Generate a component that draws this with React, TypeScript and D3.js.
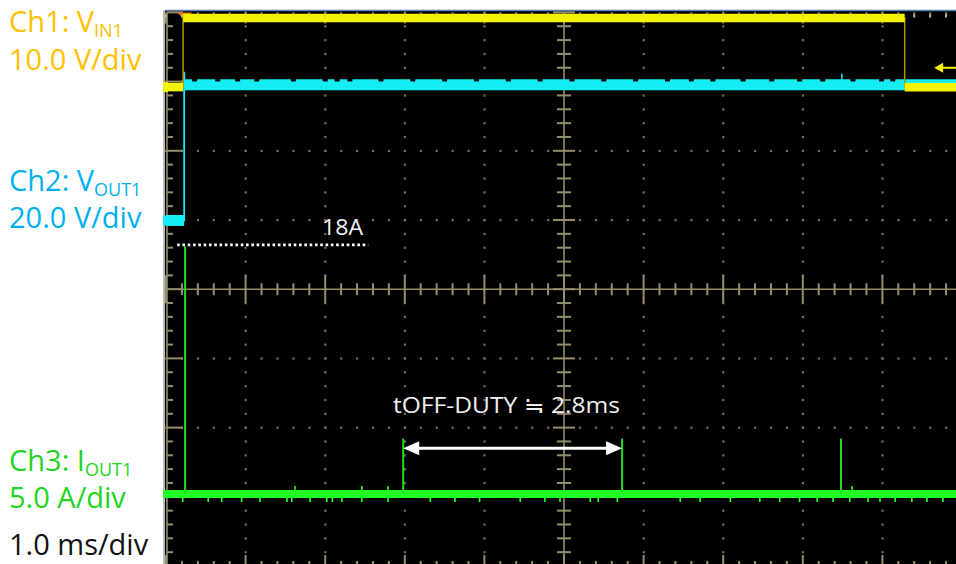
import React from 'react';
import * as d3 from 'd3';

const W = 956;
const H = 564;

// graticule: 10 time divisions (1.0 ms/div), 8 vertical divisions
const timeMajor = [0, 1, 2, 3, 4, 5, 6, 7, 8, 9, 10];
const divMajor = [-4, -3, -2, -1, 0, 1, 2, 3, 4];
const minorPerDiv = 5;

// channel settings: offset (div) and units per div
const ch1Offset = 2.92;
const ch1PerDiv = 10.0;
const ch2Offset = 0.993;
const ch2PerDiv = 20.0;
const ch3Offset = -2.96;
const ch3PerDiv = 5.0;

// Ch1: VIN1 (V) step trace
const ch1Time = [0, 0.215, 0.215, 9.28, 9.28, 10.2];
const ch1Volt = [0, 0, 10.0, 10.0, 0, 0];

// Ch2: VOUT1 (V) step trace
const ch2Time = [0, 0.228, 0.228, 0.236, 10.2];
const ch2Volt = [0, 0, 43.0, 39.2, 39.2];
const ch2NotchTime = [0.36, 0.65, 0.9, 1.14, 1.6, 2.0, 2.15, 2.31, 2.7, 3.1, 3.5, 3.9, 4.3, 4.7, 5.1, 5.5, 5.9, 6.3, 6.6, 6.87, 7.25, 7.61, 7.96, 8.25, 8.63, 8.99, 9.13];
const ch2BlipTime = [8.49];

// Ch3: IOUT1 (A) baseline with current pulses
const ch3SpikeTime = [0.24, 2.98, 5.73, 8.48];
const ch3SpikeAmp = [17.9, 4.0, 4.0, 4.0];
const ch3GlitchDown = [0.21, 0.53, 0.7, 0.95, 1.18, 1.52, 1.58, 1.81, 2.02, 2.09, 2.21, 2.46, 2.79, 3.32, 3.63, 3.94, 4.45, 4.76, 4.95, 5.33, 5.43, 5.67, 6.46, 6.71, 7.09, 7.46, 7.71, 7.96, 8.18, 8.38, 8.59, 8.82, 8.97, 9.16, 9.37, 9.56, 9.76];
const ch3GlitchUp = [1.62, 2.46, 2.79, 8.62];

// annotations
const level18A = 18.0;
const level18AStart = 0.14;
const level18AEnd = 2.54;
const label18ATime = 1.96;
const tOffLevel = 3.3;
const trigLevel = 2.8;

export default function App() {
  const plotLeft = 166;
  const plotTop = 12.4;
  const divX = 79.6;
  const divY = 69.2;
  const x = d3.scaleLinear().domain([0, 10]).range([plotLeft, plotLeft + 10 * divX]);
  const yd = d3.scaleLinear().domain([-4, 4]).range([plotTop + 8 * divY, plotTop]);
  const y1 = (v: number) => yd(ch1Offset + v / ch1PerDiv);
  const y2 = (v: number) => yd(ch2Offset + v / ch2PerDiv);
  const y3 = (v: number) => yd(ch3Offset + v / ch3PerDiv);

  const minorT = d3.range(0, 10 * minorPerDiv + 1).map((i) => i / minorPerDiv);
  const minorD = d3.range(-4 * minorPerDiv, 4 * minorPerDiv + 1).map((i) => i / minorPerDiv);
  const isMajor = (v: number) => Math.abs(v - Math.round(v)) < 1e-6;

  const grid = '#958d6c';
  const dotC = '#736d53';

  const x0 = x(5);
  const yc = yd(0);
  const yBottom = yd(-4);

  // dotted major grid lines
  const dots: JSX.Element[] = [];
  timeMajor.filter((t) => t !== 0 && t !== 5 && t !== 10).forEach((t) => {
    minorD.forEach((d, j) => {
      dots.push(<rect key={`dv${t}-${j}`} x={x(t) - 1} y={yd(d) - 1} width={2.2} height={2.2} fill={dotC} />);
    });
  });
  divMajor.filter((d) => d !== 0 && Math.abs(d) !== 4).forEach((d) => {
    minorT.forEach((t, j) => {
      dots.push(<rect key={`dh${d}-${j}`} x={x(t) - 1} y={yd(d) - 1} width={2.2} height={2.2} fill={dotC} />);
    });
  });

  // step trace helper
  const stepParts = (ts: number[], vs: number[], yf: (v: number) => number) => {
    const flats: [number, number, number][] = [];
    for (let i = 0; i < ts.length - 1; i++) {
      if (vs[i] === vs[i + 1] && ts[i] !== ts[i + 1]) flats.push([x(ts[i]), x(ts[i + 1]), yf(vs[i])]);
    }
    const path = d3.line<number>().x((_, i) => x(ts[i])).y((v) => yf(v))(vs) || '';
    return { flats, path };
  };
  const c1 = stepParts(ch1Time, ch1Volt, y1);
  const c2 = stepParts(ch2Time, ch2Volt, y2);
  const c2High = y2(ch2Volt[ch2Volt.length - 1]);

  const yellow = '#f4f400';
  const cyan = '#16ecf4';
  const green = '#22ff22';

  const y3base = y3(0);
  const arrowY = y3(tOffLevel);
  const ax1 = x(ch3SpikeTime[1]);
  const ax2 = x(ch3SpikeTime[2]);
  const ah = 16;
  const aw = 7;

  const trigY = y1(trigLevel);
  const font = '"Open Sans", "Noto Sans", sans-serif';

  return (
    <div style={{ position: 'absolute', left: 0, top: 0, width: W, height: H, background: '#fff' }}>
      <svg width={W} height={H} viewBox={`0 0 ${W} ${H}`} style={{ display: 'block' }}>
        <rect x={0} y={0} width={W} height={H} fill="#ffffff" />
        {/* scope screen */}
        <rect x={plotLeft - 1} y={plotTop - 2} width={W - plotLeft + 1} height={H - plotTop + 2} fill="#000000" />
        <line x1={plotLeft - 1} x2={W} y1={plotTop - 2} y2={plotTop - 2} stroke="#5a7fb0" strokeWidth={1.5} />
        <line x1={plotLeft - 2} x2={plotLeft - 2} y1={plotTop - 2} y2={H} stroke="#b8b8b8" strokeWidth={2} />

        {dots}

        {/* center axes */}
        <line x1={plotLeft} x2={W} y1={yc} y2={yc} stroke={grid} strokeWidth={1.6} />
        <line x1={x0} x2={x0} y1={plotTop} y2={H} stroke={grid} strokeWidth={1.6} />
        {minorT.map((t, i) => {
          const L = isMajor(t) ? 14 : 6;
          return <line key={`hx${i}`} x1={x(t)} x2={x(t)} y1={yc - L} y2={yc + L} stroke={grid} strokeWidth={2} />;
        })}
        {minorD.map((d, i) => {
          const L = isMajor(d) ? 11 : 7;
          return <line key={`vy${i}`} x1={x0 - L} x2={x0 + L} y1={yd(d)} y2={yd(d)} stroke={grid} strokeWidth={2} />;
        })}
        {/* edge ticks */}
        <line x1={plotLeft + 1} x2={plotLeft + 1} y1={plotTop} y2={H} stroke={grid} strokeWidth={1.6} />
        {minorD.map((d, i) => {
          const L = isMajor(d) ? 16 : 6;
          return <line key={`ly${i}`} x1={plotLeft + 1} x2={plotLeft + 1 + L} y1={yd(d)} y2={yd(d)} stroke={grid} strokeWidth={2} />;
        })}
        {minorT.map((t, i) => {
          const L = isMajor(t) ? 11 : 5;
          return (
            <g key={`tb${i}`}>
              <line x1={x(t)} x2={x(t)} y1={plotTop} y2={plotTop + L} stroke={grid} strokeWidth={2} />
              <line x1={x(t)} x2={x(t)} y1={yBottom} y2={yBottom - L} stroke={grid} strokeWidth={2} />
            </g>
          );
        })}

        {/* Ch2 trace (cyan) */}
        <path d={c2.path} fill="none" stroke={cyan} strokeWidth={1.8} />
        {c2.flats.map((f, i) => (
          <line key={`c2f${i}`} x1={f[0]} x2={f[1]} y1={f[2]} y2={f[2]} stroke={cyan} strokeWidth={11} />
        ))}
        {ch2NotchTime.map((t, i) => (
          <rect key={`c2n${i}`} x={x(t) - 2.5} y={c2High - 6} width={5} height={2.6} fill="#000" />
        ))}
        {ch2BlipTime.map((t, i) => (
          <line key={`c2b${i}`} x1={x(t)} x2={x(t)} y1={c2High - 5} y2={c2High - 11} stroke={cyan} strokeWidth={1.5} />
        ))}
        {/* trigger position marker */}
        <path d={`M${x(0.14)},${plotTop} L${x(0.33)},${plotTop} L${x(0.235)},${plotTop + 7} Z`} fill="#f07020" />
        {/* Ch1 trace (yellow) */}
        <path d={c1.path} fill="none" stroke="#a89a00" strokeWidth={1.5} />
        {c1.flats.map((f, i) => (
          <line key={`c1f${i}`} x1={f[0]} x2={f[1]} y1={f[2]} y2={f[2]} stroke={yellow} strokeWidth={8.5} />
        ))}
        {/* top edge ticks drawn over yellow */}
        {minorT.map((t, i) => (
          <line key={`tt${i}`} x1={x(t)} x2={x(t)} y1={plotTop + 2} y2={plotTop + 5} stroke="#d8d27a" strokeWidth={1.5} opacity={0.8} />
        ))}

        {/* Ch3 trace (green) */}
        {ch3GlitchDown.map((t, i) => (
          <line key={`gd${i}`} x1={x(t)} x2={x(t)} y1={y3base} y2={y3base + 8} stroke={green} strokeWidth={1.6} />
        ))}
        {ch3GlitchUp.map((t, i) => (
          <line key={`gu${i}`} x1={x(t)} x2={x(t)} y1={y3base} y2={y3base - 8} stroke={green} strokeWidth={1.6} />
        ))}
        <line x1={plotLeft} x2={W} y1={y3base} y2={y3base} stroke={green} strokeWidth={8} />
        {ch3SpikeTime.map((t, i) => (
          <line key={`sp${i}`} x1={x(t)} x2={x(t)} y1={y3base} y2={y3(ch3SpikeAmp[i])} stroke="#20e020" strokeWidth={2} />
        ))}

        {/* ground markers on left edge */}
        <rect x={plotLeft - 3} y={y1(0) - 5} width={5} height={10} fill={yellow} />
        <rect x={plotLeft - 3} y={y2(0) - 5} width={5} height={10} fill={cyan} />
        <rect x={plotLeft - 3} y={y3base - 4} width={5} height={8} fill={green} />

        {/* trigger level arrow */}
        <line x1={x(9.75)} x2={W} y1={trigY} y2={trigY} stroke={yellow} strokeWidth={2} />
        <path d={`M${x(9.65)},${trigY} L${x(9.65) + 9},${trigY - 5} L${x(9.65) + 9},${trigY + 5} Z`} fill={yellow} />

        {/* 18A reference */}
        <line
          x1={x(level18AStart)}
          x2={x(level18AEnd)}
          y1={y3(level18A)}
          y2={y3(level18A)}
          stroke="#ffffff"
          strokeWidth={2.6}
          strokeDasharray="2.6 2.7"
        />
        <text x={x(label18ATime)} y={235} fill="#f0f0f0" fontFamily={font} fontSize={21} textLength={41} lengthAdjust="spacingAndGlyphs">18A</text>

        {/* tOFF-DUTY arrow */}
        <line x1={ax1 + ah - 2} x2={ax2 - ah + 2} y1={arrowY} y2={arrowY} stroke="#ffffff" strokeWidth={3} />
        <path d={`M${ax1},${arrowY} L${ax1 + ah},${arrowY - aw} L${ax1 + ah},${arrowY + aw} Z`} fill="#ffffff" />
        <path d={`M${ax2},${arrowY} L${ax2 - ah},${arrowY - aw} L${ax2 - ah},${arrowY + aw} Z`} fill="#ffffff" />
        <text x={393} y={413} fill="#f0f0f0" fontFamily={font} fontSize={21} textLength={227} lengthAdjust="spacingAndGlyphs">
          tOFF-DUTY ≒ 2.8ms
        </text>

        {/* left labels */}
        <g fontFamily={font} fontSize={29}>
          <text x={9} y={32} fill="#ffc000">
            Ch1: V<tspan fontSize={18} dy={5}>IN1</tspan>
          </text>
          <text x={9} y={70} fill="#ffc000">10.0 V/div</text>
          <text x={9} y={191} fill="#00b0f0">
            Ch2: V<tspan fontSize={18} dy={5}>OUT1</tspan>
          </text>
          <text x={9} y={228} fill="#00b0f0">20.0 V/div</text>
          <text x={9} y={471} fill="#1ed41e">
            Ch3: I<tspan fontSize={18} dy={5}>OUT1</tspan>
          </text>
          <text x={9} y={508} fill="#1ed41e">5.0 A/div</text>
          <text x={9} y={555} fill="#111111">1.0 ms/div</text>
        </g>
      </svg>
    </div>
  );
}
